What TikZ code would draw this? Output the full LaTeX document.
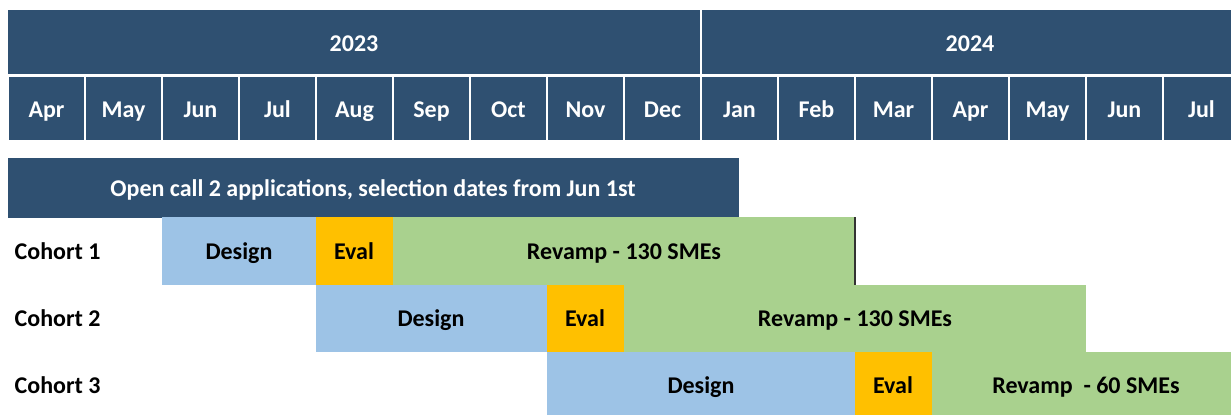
\documentclass[tikz,border=0pt]{standalone}
\usepackage{fontspec}
\setmainfont{Carlito}
\definecolor{navy}{HTML}{2F5071}
\definecolor{designblue}{HTML}{9DC3E6}
\definecolor{evalorange}{HTML}{FFC000}
\definecolor{revampgreen}{HTML}{A9D18E}
\tikzset{
  hdr/.style={fill=navy, draw=white, line width=2pt},
  hdrtext/.style={text=white, font=\bfseries\fontsize{18}{20}\selectfont, text height=0.64em, text depth=0pt, yshift=-2.5pt},
  bartext/.style={font=\bfseries\fontsize{18}{20}\selectfont, text height=0.64em, text depth=0pt, yshift=-2.5pt},
}
\begin{document}
\begin{tikzpicture}[x=0.75pt,y=-0.75pt]
\clip (0,0) rectangle (1231,414);
% Year header
\draw[hdr] (7,9) rectangle (701,75.5);
\draw[hdr] (701,9) rectangle (1245,75.5);
\node[hdrtext] (y2023) at (354,44) {2023};
\node[hdrtext] (y2024) at (970,44) {2024};

% Months
\foreach \m [count=\i from 0] in {Apr,May,Jun,Jul,Aug,Sep,Oct,Nov,Dec,Jan,Feb,Mar,Apr,May,Jun,Jul}
{
  \draw[hdr] (8+77*\i,75.5) rectangle ++(77,66);
  \node[hdrtext] (m\i) at (8+77*\i+38.5,110) {\m};
}

% Open call bar
\fill[navy] (8,158) rectangle (739,218);
\node[hdrtext] (opencall) at (373,189) {Open call 2 applications, selection dates from Jun 1st};

% Cohort 1
\fill[designblue] (162,217) rectangle (316,285);
\fill[evalorange] (316,217) rectangle (393,285);
\fill[revampgreen] (393,217) rectangle (855,285);
\draw[line width=0.8pt, black!80] (855,217) -- (855,285);
\node[bartext, anchor=west] (c1) at (10,252) {Cohort 1};
\node[bartext] (c1design) at (239,252) {Design};
\node[bartext] (c1eval) at (354,252) {Eval};
\node[bartext] (c1revamp) at (624,252) {Revamp - 130 SMEs};

% Cohort 2
\fill[designblue] (316,285) rectangle (547,352);
\fill[evalorange] (547,285) rectangle (624,352);
\fill[revampgreen] (624,285) rectangle (1086,352);
\node[bartext, anchor=west] (c2) at (10,319) {Cohort 2};
\node[bartext] (c2design) at (431,319) {Design};
\node[bartext] (c2eval) at (585,319) {Eval};
\node[bartext] (c2revamp) at (855,319) {Revamp - 130 SMEs};

% Cohort 3
\fill[designblue] (547,352) rectangle (855,420);
\fill[evalorange] (855,352) rectangle (932,420);
\fill[revampgreen] (932,352) rectangle (1240,420);
\node[bartext, anchor=west] (c3) at (10,386) {Cohort 3};
\node[bartext] (c3design) at (701,386) {Design};
\node[bartext] (c3eval) at (893,386) {Eval};
\node[bartext] (c3revamp) at (1086,386) {Revamp\ \ - 60 SMEs};
\end{tikzpicture}
\end{document}
